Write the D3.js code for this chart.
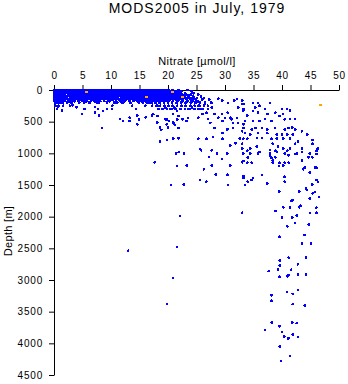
<!DOCTYPE html>
<html>
<head>
<meta charset="utf-8">
<script src="https://cdn.jsdelivr.net/npm/d3@7"></script>
<style>
  body { margin: 0; background: #fff; }
  svg { display: block; }
  text { font-family: "Liberation Sans", Arial, Helvetica, sans-serif; fill: #000; }
</style>
</head>
<body>
<script>
// Chart text
const chartTitle = "MODS2005 in July, 1979";
const xLabel = "Nitrate [µmol/l]";
const yLabel = "Depth [m]";

// Axis ticks
const xTicks = [0, 5, 10, 15, 20, 25, 30, 35, 40, 45, 50];
const yTicks = [0, 500, 1000, 1500, 2000, 2500, 3000, 3500, 4000, 4500];

// Near-surface observations, grouped by depth level (m)
const bandDepths = [0, 20, 35, 50, 75, 90, 100, 125, 140, 150, 175, 200, 250, 300];
const bandNitrate = [
  [0.0,0.2,0.5,0.9,1.2,1.5,1.9,2.2,2.5,2.9,3.2,3.6,3.9,4.2,4.6,4.9,5.3,5.6,5.9,6.3,6.6,7.0,7.3,7.6,8.0,8.3,8.7,9.0,9.4,9.7,10.0,10.4,10.7,11.1,11.4,11.8,12.1,12.4,12.8,13.1,13.5,13.8,14.2,14.5,14.8,15.2,15.5,15.9,16.2,16.6,16.9,17.2,17.6,17.9,18.3,18.6,19.0,19.3,19.7,20.1,20.8,21.9,23.4],
  [0.1,0.4,0.7,1.0,1.4,1.7,2.0,2.4,2.7,3.1,3.4,3.8,4.1,4.4,4.8,5.1,5.5,5.8,6.2,6.5,6.9,7.2,7.5,7.9,8.2,8.6,8.9,9.3,9.6,9.9,10.3,10.6,11.0,11.3,11.7,12.0,12.3,12.7,13.0,13.4,13.7,14.1,14.4,14.7,15.1,15.4,15.8,16.1,16.5,16.8,17.2,17.5,17.8,18.2,18.5,18.9,19.2,19.6,20.0,20.4,21.0,21.5,22.3,24.1],
  [0.2,0.5,0.8,1.2,1.5,1.8,2.2,2.5,2.8,3.2,3.5,3.9,4.3,4.6,5.0,5.3,5.7,6.0,6.4,6.7,7.1,7.4,7.8,8.1,8.5,8.8,9.2,9.5,9.9,10.2,10.6,10.9,11.3,11.6,12.0,12.3,12.7,13.0,13.4,13.7,14.1,14.4,14.8,15.1,15.5,15.8,16.2,16.5,16.9,17.2,17.6,17.9,18.3,18.6,19.0,19.3,19.7,20.2,20.7,21.3,22.0],
  [0.0,0.3,0.6,1.0,1.3,1.7,2.0,2.3,2.7,3.0,3.4,3.7,4.5,4.8,5.2,5.5,5.9,6.2,6.5,6.9,7.2,7.6,7.9,8.3,8.6,9.0,9.3,9.6,10.0,10.3,10.7,11.0,11.4,11.7,12.0,12.4,12.7,13.1,13.4,13.8,14.1,14.5,14.8,15.1,15.5,15.8,16.2,16.5,16.9,17.2,17.6,17.9,18.2,18.6,18.9,19.3,19.6,20.0,20.3,20.7,21.1,21.6,22.2,23.0,24.5],
  [0.1,0.4,0.8,1.1,1.5,2.6,2.9,3.3,3.6,4.0,4.3,5.1,5.4,5.8,6.1,6.5,6.8,7.2,7.5,8.7,9.0,9.4,9.7,10.1,10.4,10.8,11.1,11.5,11.8,12.2,12.5,13.6,14.0,14.3,14.7,15.0,15.4,15.7,16.1,16.4,16.8,17.1,17.5,17.8,18.2,18.5,18.9,19.2,19.6,19.9,20.3,20.6,21.0,21.4,21.9,22.5,23.2,24.0,25.3],
  [0.2,0.5,0.9,1.2,1.6,1.9,2.4,2.8,3.1,3.5,3.8,4.2,4.5,4.9,5.2,5.6,5.9,6.3,6.6,7.0,7.3,7.7,8.0,8.4,8.7,9.1,9.4,9.8,10.1,10.5,10.8,11.2,11.5,11.9,12.2,12.6,12.9,13.3,13.6,14.0,14.3,14.7,15.0,15.4,15.7,16.1,16.4,16.8,17.1,17.5,17.8,18.2,18.5,18.9,19.2,19.6,19.9,20.3,20.6,21.0,21.5,22.1,22.8,23.5],
  [0.0,0.3,0.7,1.0,1.4,1.7,2.1,3.2,3.5,3.9,4.2,4.6,4.9,5.3,5.6,6.0,6.3,6.7,7.0,7.4,7.7,8.1,8.4,8.8,9.1,9.5,10.6,11.0,11.3,11.7,12.0,12.4,12.7,13.1,13.4,13.8,14.1,14.5,14.8,15.2,15.5,15.9,16.2,16.6,16.9,17.3,17.6,18.0,18.3,18.7,19.0,19.4,19.7,20.1,20.4,20.8,21.2,21.7,22.3,22.9,23.6,24.4,25.8],
  [0.0,0.4,0.8,1.2,1.6,2.0,2.9,3.3,3.7,4.1,4.5,5.6,6.0,6.4,6.8,7.2,8.3,8.7,9.1,9.5,9.9,10.3,10.7,11.9,12.3,12.7,13.1,13.5,13.9,14.3,14.7,15.1,15.5,15.9,16.3,16.7,17.1,17.5,17.9,18.3,18.7,19.1,19.5,19.9,20.3,20.7,21.1,21.6,22.1,22.7,23.4,24.2,25.1,26.3],
  [0.3,0.7,1.1,1.5,1.9,2.3,2.7,3.2,3.6,4.0,4.4,4.8,5.2,5.8,6.2,6.6,7.0,7.4,7.9,8.5,8.9,9.3,9.7,10.1,10.5,10.9,11.3,11.7,12.1,12.5,12.9,13.3,13.7,14.1,14.5,14.9,15.3,15.7,16.1,16.5,16.9,17.3,17.7,18.1,18.5,18.9,19.3,19.7,20.1,20.5,21.0,21.5,22.0,22.6,23.2,23.9,24.6],
  [0.1,0.5,0.9,1.3,1.7,2.5,3.0,3.4,4.6,5.0,5.4,6.8,7.2,7.6,8.0,9.5,9.9,10.3,11.4,11.8,12.2,12.6,13.9,14.3,14.7,15.1,15.5,16.4,16.8,17.2,17.6,18.0,18.4,18.8,19.2,19.6,20.0,20.4,20.9,21.4,21.9,22.6,23.3,24.1,24.9,26.0,27.2],
  [0.0,0.4,0.8,1.2,1.8,2.7,3.6,4.2,4.9,5.7,6.5,7.1,8.1,8.8,9.7,10.9,11.6,12.4,13.2,13.9,14.6,15.3,16.0,16.7,17.4,18.1,18.8,19.5,20.2,20.9,21.7,22.5,23.4,24.3,25.2],
  [0.2,0.6,1.0,1.5,2.3,3.1,4.4,5.3,6.2,7.5,7.9,9.3,10.6,11.1,11.9,13.4,14.9,15.6,16.3,17.1,17.8,18.5,19.3,20.0,20.7,21.5,22.3,23.1,24.0,24.8,25.6,26.5,27.6],
  [0.3,0.8,1.6,2.8,17.2,17.9,18.6,19.4,20.1,20.8,21.6,22.4,23.1,23.9,24.7,25.5,26.3],
  [0.5,18.3,19.0,19.8,20.6,21.3,22.2,23.0,23.8,24.6,25.4,26.1,27.0]
];

// Observations between ~200 m and ~1000 m: [nitrate, depth]
const midScatter = [
  [0.7,270],[1.4,320],[3.2,240],[3.9,270],[5.4,300],[4.9,380],[7.2,270],[7.7,300],[7.2,360],[7.9,400],
  [8.6,330],[9.3,300],[10.2,250],[10.2,300],[8.4,600],[11.6,460],[12.1,490],[13.3,440],[13.3,490],[14.4,300],
  [14.6,400],[14.9,470],[14.6,540],[13.7,250],[12.1,200],[16.0,250],[16.7,200],[16.1,430],[17.2,400],
  [18.1,510],[18.6,590],[18.8,630],[19.8,470],[20.0,590],[20.9,510],[21.2,550],[21.6,470],[21.8,600],
  [18.6,810],[19.8,790],[20.9,770],[21.8,760],[21.4,1000],[21.9,980],[22.8,1000],[25.8,950],
  [28.8,140],[29.5,170],[30.5,205],[31.6,170],[32.1,140],[33.0,170],[33.0,220],[33.2,300],
  [25.3,250],[25.6,300],[26.5,220],[27.0,250],[27.7,280],[23.5,300],[24.2,280],[23.0,250],[21.1,280],
  [21.6,330],[18.2,250],[19.5,280],[20.4,300],[17.4,380],[18.2,410],[19.5,460],[20.2,490],[19.8,540],
  [20.9,380],[21.8,410],[22.5,460],[23.3,490],[23.5,440],[25.3,440],[26.1,380],[26.8,360],[27.0,460],
  [27.4,520],[28.2,380],[28.8,440],[29.5,380],[29.6,490],[30.0,440],[30.5,360],[30.9,440],[31.2,460],
  [31.4,520],[32.1,440],[32.3,520],[31.4,600],[30.4,620],[33.2,540],[33.0,650],[25.3,770],[26.8,770],
  [27.9,740],[28.2,600],[29.6,680],[29.6,770],[30.9,880],[31.8,840],[32.6,770],[33.0,850],[25.6,930],
  [27.7,950],[28.6,1000],[30.4,1000],[33.2,1000],[32.3,280],[33.2,320],[33.9,400],
  [33.2,220],[34.9,205],[35.8,205],[36.1,250],[37.9,205],[35.3,280],[34.9,330],[35.8,360],[37.0,300],
  [37.5,380],[38.8,360],[40.0,300],[40.9,300],[41.4,320],[33.5,490],[34.9,490],[36.1,490],[37.0,460],
  [38.2,490],[39.6,410],[40.2,380],[40.5,460],[41.4,460],[42.3,460],[33.2,600],[34.7,620],[35.3,600],
  [36.5,600],[37.4,620],[38.8,600],[40.5,620],[41.1,600],[41.8,590],[42.3,620],[33.5,680],[34.4,700],
  [35.8,680],[37.4,680],[39.1,700],[40.0,700],[40.9,700],[41.9,700],[43.5,650],[44.4,700],[33.2,770],
  [33.9,770],[35.6,760],[36.5,760],[38.2,770],[39.1,770],[40.2,770],[41.4,770],[42.8,810],[45.3,790],
  [33.0,920],[34.4,920],[35.6,890],[38.4,850],[39.3,890],[40.2,920],[41.4,920],[42.3,850],[43.5,920],
  [45.4,850],[46.3,920],[46.1,960],[33.9,960],[35.8,1000],[37.9,1000],[38.8,960],[40.5,1000],[40.9,960],
  [42.6,1000],[44.9,1000],[46.1,1010],[34.4,1000],[36.1,980],[37.9,950],[39.1,980],[43.5,980]
];

// Observations deeper than ~1000 m: [nitrate, depth]
const deepScatter = [
  [17.7,1140],[21.6,1200],[23.3,1190],[26.3,1250],[20.5,1500],[22.8,1490],[25.6,1420],[26.7,1450],
  [22.1,1990],[21.6,2480],[27.2,1060],[13.0,2540],[19.8,3380],[20.9,2970],
  [29.5,1090],[30.9,1190],[33.2,1120],[34.0,1070],[34.7,1150],[27.7,1190],[28.4,1330],[30.4,1340],
  [30.5,1500],[33.2,1360],[33.2,1390],[34.0,1450],[34.7,1420],[34.9,1390],[36.5,1340],[37.4,1480],
  [37.9,1030],[38.2,1070],[38.8,1060],[39.6,1150],[40.2,1190],[40.5,1150],[41.2,1150],[41.1,1030],
  [42.3,1010],[44.6,1060],[45.3,1060],[43.5,1110],[44.0,1220],[44.9,1300],[45.8,1220],[46.1,1230],
  [45.3,1490],[46.3,1450],[45.8,1610],[44.9,1710],[46.5,1690],[44.4,1580],[43.0,1600],[39.5,1600],
  [41.6,1750],[41.9,1740],[43.0,1850],[41.4,1860],[40.2,1850],[38.9,1910],[40.0,2010],[41.8,2010],
  [42.6,1980],[42.3,2100],[40.9,2150],[44.7,2120],[44.9,1940],[46.1,1940],[44.0,2290],[39.6,2320],
  [33.0,1940],[43.5,2420],[45.1,2420],[39.6,2690],[41.2,2650],[44.2,2640],[42.8,2750],[39.6,2770],
  [37.7,2860],[39.3,2830],[41.6,2840],[39.6,2950],[40.9,2940],[41.2,2920],[42.8,2910],[44.2,2910],
  [40.9,3190],[41.9,3220],[42.8,3160],[38.2,3240],[38.2,3330],[41.9,3380],[44.0,3400],[38.2,3670],
  [39.6,3730],[41.8,3670],[42.6,3680],[37.0,3790],[40.0,3820],[40.4,3890],[41.1,3920],[41.9,3860],
  [42.8,3900],[39.6,4050],[41.4,4200],[39.8,4280],
  [38.4,1150],[38.4,1110],[40.4,1370],[40.5,1450],[33.5,1500],[39.5,1200],[43.7,1250],[46.0,1420],
  [44.2,1560],[45.4,1630],[43.2,1830],[46.0,1860],[33.9,1150],[33.0,1140]
];

// Flagged observations drawn in orange: [nitrate, depth]
const flagged = [[5.6,30],[16.1,110],[20.7,30],[22.5,110],[46.7,240]];

const width = 348, height = 384;
const svg = d3.select("body").append("svg")
  .attr("width", width).attr("height", height);

const x = d3.scaleLinear().domain([0, 50]).range([54, 339]);
const y = d3.scaleLinear().domain([0, 4500]).range([90, 375]);
const fmt = d3.format("d");

// Title
svg.append("text")
  .attr("x", 197).attr("y", 13)
  .attr("text-anchor", "middle")
  .style("font-size", "14px")
  .style("letter-spacing", "1px")
  .text(chartTitle);

// Top x axis
const xAxis = svg.append("g")
  .attr("transform", "translate(0,90)")
  .call(d3.axisTop(x).tickValues(xTicks).tickFormat(fmt)
    .tickSize(5).tickSizeOuter(0).tickPadding(6));
xAxis.selectAll("text").style("font-size", "10px").style("letter-spacing", "0.6px")
  .attr("font-family", null);

svg.append("text")
  .attr("x", 197).attr("y", 65)
  .attr("text-anchor", "middle")
  .style("font-size", "11px")
  .style("letter-spacing", "0.4px")
  .text(xLabel);

// Left y axis (depth increases downward)
const yAxis = svg.append("g")
  .attr("transform", "translate(54,0)")
  .call(d3.axisLeft(y).tickValues(yTicks).tickFormat(fmt)
    .tickSize(5).tickSizeOuter(0).tickPadding(6));
yAxis.selectAll("text").style("font-size", "10px").style("letter-spacing", "0.8px")
  .attr("font-family", null);

svg.selectAll(".domain, .tick line").attr("stroke", "#000");

svg.append("text")
  .attr("transform", "translate(12,231) rotate(-90)")
  .attr("text-anchor", "middle")
  .style("font-size", "11px")
  .style("letter-spacing", "0.3px")
  .text(yLabel);

// Flatten the level groups into points
const bandPoints = [];
bandDepths.forEach((d, i) => bandNitrate[i].forEach(n => bandPoints.push([n, d])));
const bluePoints = bandPoints.concat(midScatter, deepScatter);

// Small aliased dots: they come out as 2x2 squares, 2x3 blocks or little pluses
const marks = svg.append("g").attr("shape-rendering", "crispEdges");
marks.selectAll("circle.obs")
  .data(bluePoints)
  .join("circle")
  .attr("class", "obs")
  .attr("cx", d => x(d[0]))
  .attr("cy", d => y(d[1]))
  .attr("r", 1.5)
  .attr("fill", "#0000ff");

marks.selectAll("rect.flag")
  .data(flagged)
  .join("rect")
  .attr("class", "flag")
  .attr("x", d => Math.round(x(d[0])) - 1)
  .attr("y", d => Math.round(y(d[1])) - 1)
  .attr("width", 3).attr("height", 2)
  .attr("fill", "#ffa500");
</script>
</body>
</html>
